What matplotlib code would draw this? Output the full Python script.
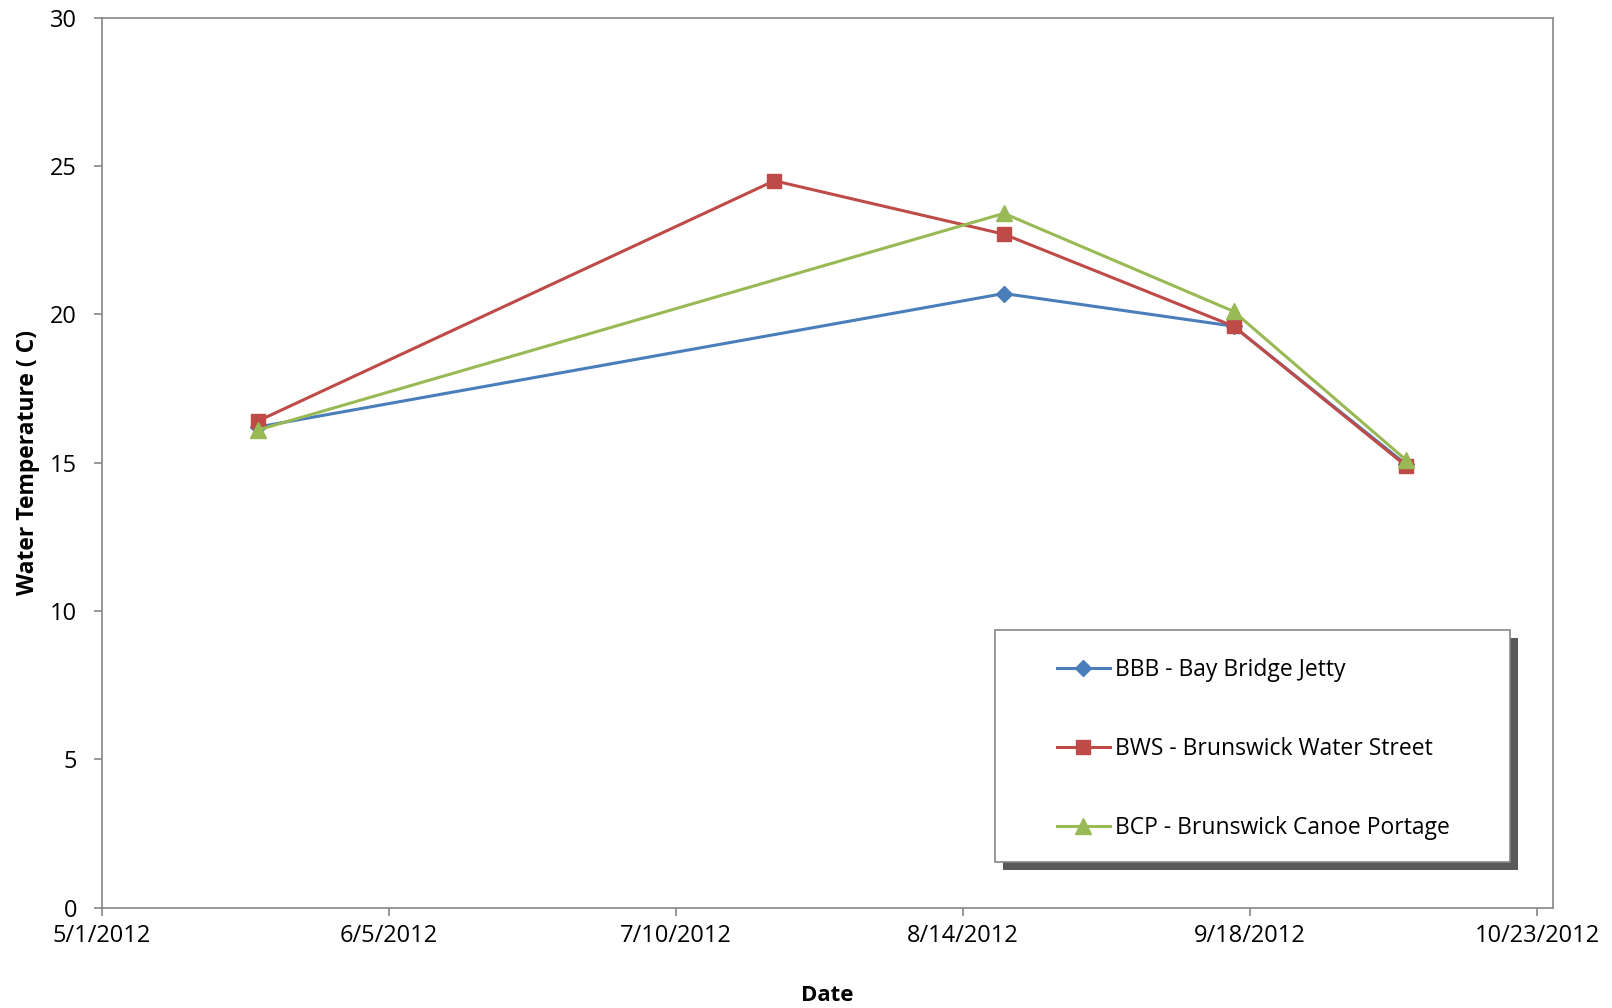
import datetime as dt
import matplotlib
matplotlib.use("Agg")
import matplotlib.pyplot as plt
from matplotlib.patches import Rectangle

plt.rcParams['font.family'] = ['Open Sans', 'DejaVu Sans']

# data
bbb_dates = ["2012-05-20", "2012-08-19", "2012-09-16", "2012-10-07"]
bbb_temp = [16.2, 20.7, 19.6, 14.95]
bws_dates = ["2012-05-20", "2012-07-22", "2012-08-19", "2012-09-16", "2012-10-07"]
bws_temp = [16.4, 24.5, 22.7, 19.6, 14.9]
bcp_dates = ["2012-05-20", "2012-08-19", "2012-09-16", "2012-10-07"]
bcp_temp = [16.1, 23.4, 20.1, 15.1]

tick_dates = ["2012-05-01", "2012-06-05", "2012-07-10", "2012-08-14", "2012-09-18", "2012-10-23"]

def to_d(lst):
    return [dt.datetime.strptime(s, "%Y-%m-%d") for s in lst]

fig = plt.figure(figsize=(16.12, 10.08), dpi=100)
ax = fig.add_axes([0.0632, 0.0994, 0.9004, 0.8832])

ax.plot(to_d(bbb_dates), bbb_temp, color="#4A7EBB", lw=2.2, marker="D", ms=8,
        label="BBB - Bay Bridge Jetty")
ax.plot(to_d(bws_dates), bws_temp, color="#BE4B48", lw=2.2, marker="s", ms=10,
        label="BWS - Brunswick Water Street")
ax.plot(to_d(bcp_dates), bcp_temp, color="#98B954", lw=2.2, marker="^", ms=11,
        label="BCP - Brunswick Canoe Portage")

ax.set_xlim(dt.datetime(2012, 5, 1), dt.datetime(2012, 10, 25))
ax.set_ylim(0, 30)
ax.set_yticks(range(0, 31, 5))
ticks = to_d(tick_dates)
ax.set_xticks(ticks)
ax.set_xticklabels([f"{d.month}/{d.day}/{d.year}" for d in ticks])

for s in ax.spines.values():
    s.set_color("#868686")
    s.set_linewidth(1.2)
ax.tick_params(direction="out", length=6, width=1.2, color="#868686",
               labelsize=17, pad=6)
ax.tick_params(axis="y", pad=12)

ax.set_xlabel("Date", fontsize=16, fontweight="bold", labelpad=26)
ax.set_ylabel("Water Temperature ( C)", fontsize=16.5, fontweight="bold", labelpad=7)

# legend box with shadow
ax.add_patch(Rectangle((0.621, 0.042), 0.355, 0.261, transform=ax.transAxes,
                       facecolor="#595959", edgecolor="none", zorder=4))
ax.add_patch(Rectangle((0.615, 0.0514), 0.355, 0.2606, transform=ax.transAxes,
                       facecolor="white", edgecolor="#868686", lw=1.2, zorder=5))
leg = ax.legend(loc="center left", bbox_to_anchor=(0.658, 0.178), frameon=False,
                fontsize=16.5, labelspacing=2.4, handlelength=2.3,
                handletextpad=0.25, borderpad=0, borderaxespad=0)
leg.set_zorder(6)

fig.savefig("out.png", dpi=100)
